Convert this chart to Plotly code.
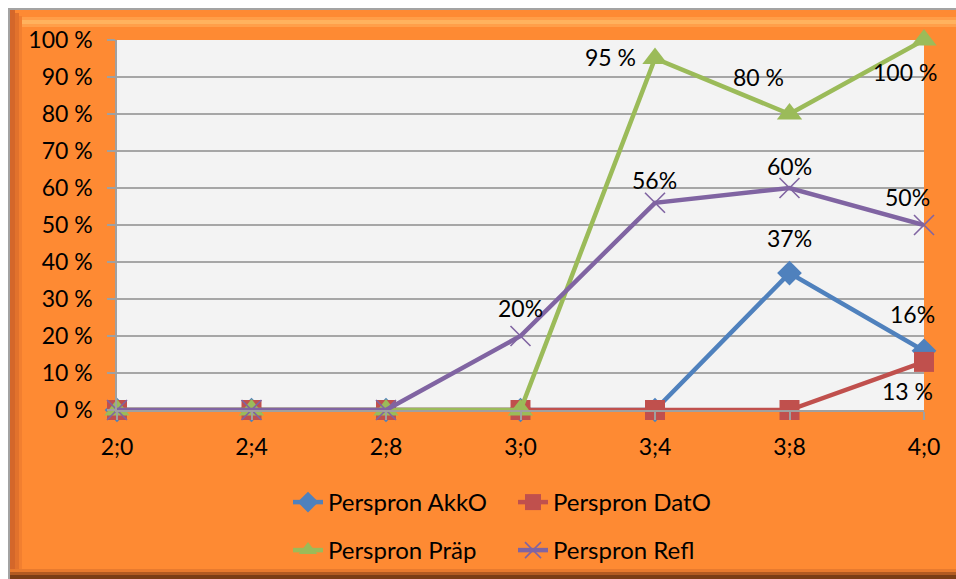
import plotly.graph_objects as go

# Age points (years;months) and share of use per pronoun type, in percent
ages = ["2;0", "2;4", "2;8", "3;0", "3;4", "3;8", "4;0"]
akko = [0, 0, 0, 0, 0, 37, 16]
dato = [0, 0, 0, 0, 0, 0, 13]
praep = [0, 0, 0, 0, 95, 80, 100]
refl = [0, 0, 0, 20, 56, 60, 50]

series_names = ["Perspron AkkO", "Perspron DatO", "Perspron Präp", "Perspron Refl"]
y_ticks = [0, 10, 20, 30, 40, 50, 60, 70, 80, 90, 100]
y_tick_labels = [f"{v} %" for v in y_ticks]

FONT = "Lato"
FS = 23
W, H = 956, 579
ML, MR, MT, MB = 117, 32, 40, 169
PW, PH = W - ML - MR, H - MT - MB


def px(x):
    return (x - ML) / PW


def py(y):
    return (H - MB - y) / PH


# styling per series: colour, marker, value-label separator, labelled points with pixel offsets
styles = [
    dict(values=akko, color="#4F81BD", symbol="diamond", size=19, lw=None, sep="",
         labels={5: (0, 35), 6: (-12, 37)}),
    dict(values=dato, color="#C0504D", symbol="square", size=20, lw=None, sep=" ",
         labels={6: (-17, -29)}),
    dict(values=praep, color="#9BBB59", symbol="triangle-up", size=22, lw=None, sep=" ",
         labels={4: (-45, 2), 5: (-31, 37), 6: (-19, -32)}),
    dict(values=refl, color="#8064A2", symbol="x-thin", size=20, lw=1.6, sep="",
         labels={3: (0, 28), 4: (-1, 23), 5: (0, 22), 6: (-17, 28)}),
]

fig = go.Figure()
annotations = []
for i, (name, st) in enumerate(zip(series_names, styles)):
    marker = dict(symbol=st["symbol"], size=st["size"], color=st["color"])
    if st["lw"]:
        marker["line"] = dict(color=st["color"], width=st["lw"])
    fig.add_trace(go.Scatter(
        x=ages, y=st["values"], name=name, mode="lines+markers",
        line=dict(color=st["color"], width=4.5),
        marker=marker, cliponaxis=False,
        legend="legend" if i < 2 else "legend2",
    ))
    for idx, (dx, dy) in st["labels"].items():
        v = st["values"][idx]
        annotations.append(dict(
            x=ages[idx], y=v, xref="x", yref="y", text=f"{v}{st['sep']}%",
            showarrow=False, xshift=dx, yshift=dy,
            font=dict(family=FONT, size=FS, color="#000000"),
        ))


def rect(x0, y0, x1, y1, color):
    return dict(type="rect", xref="paper", yref="paper", layer="below",
                x0=px(x0), x1=px(x1), y0=py(y1), y1=py(y0),
                fillcolor=color, line=dict(width=0))


shapes = [
    rect(8, 8, 956, 579, "#A3A3A3"),
    rect(10, 10, 956, 579, "#FE8A33"),
    # bevelled frame edges
    rect(10, 10, 15, 579, "#D4672A"),
    rect(15, 13, 19, 576, "#E2722C"),
    rect(19, 16, 22, 573, "#F27F30"),
    rect(22, 17, 956, 20, "#FF9E48"),
    rect(22, 20, 956, 24, "#FFB25E"),
    rect(22, 24, 956, 27, "#FF9F4A"),
    rect(10, 569, 956, 572, "#E87A2E"),
    rect(10, 572, 956, 575, "#B25A22"),
    rect(10, 575, 956, 579, "#7B3D16"),
    # plot area background
    dict(type="rect", xref="paper", yref="paper", layer="below",
         x0=0, x1=1, y0=0, y1=1, fillcolor="#F3F3F3", line=dict(width=0)),
]

legend_common = dict(
    orientation="h", xanchor="left", yanchor="top",
    font=dict(family=FONT, size=24, color="#000000"),
    bgcolor="rgba(0,0,0,0)", entrywidth=180, entrywidthmode="pixels",
    itemwidth=30,
)

fig.update_layout(
    width=W, height=H,
    margin=dict(l=ML, r=MR, t=MT, b=MB, autoexpand=False),
    paper_bgcolor="#FFFFFF",
    plot_bgcolor="rgba(0,0,0,0)",
    font=dict(family=FONT, size=FS, color="#000000"),
    shapes=shapes,
    annotations=annotations,
    legend=dict(x=px(288), y=py(480), **legend_common),
    legend2=dict(x=px(288), y=py(528), **legend_common),
    xaxis=dict(
        type="category", categoryorder="array", categoryarray=ages,
        range=[0, len(ages) - 1], showgrid=False,
        showline=True, linecolor="#A0A0A0", linewidth=1.5,
        ticks="outside", ticklen=8, tickcolor="#A0A0A0", tickwidth=1.5,
        ticklabelstandoff=8, tickfont=dict(family=FONT, size=FS, color="#000000"),
        zeroline=False,
    ),
    yaxis=dict(
        range=[0, 100], tickvals=y_ticks, ticktext=y_tick_labels,
        showgrid=True, gridcolor="#A6A6A6", gridwidth=1.5,
        showline=True, linecolor="#A0A0A0", linewidth=1.5,
        ticks="outside", ticklen=8, tickcolor="#A0A0A0", tickwidth=1.5,
        ticklabelstandoff=10, tickfont=dict(family=FONT, size=FS, color="#000000"),
        zeroline=False,
    ),
)

fig.write_html("out.html")
